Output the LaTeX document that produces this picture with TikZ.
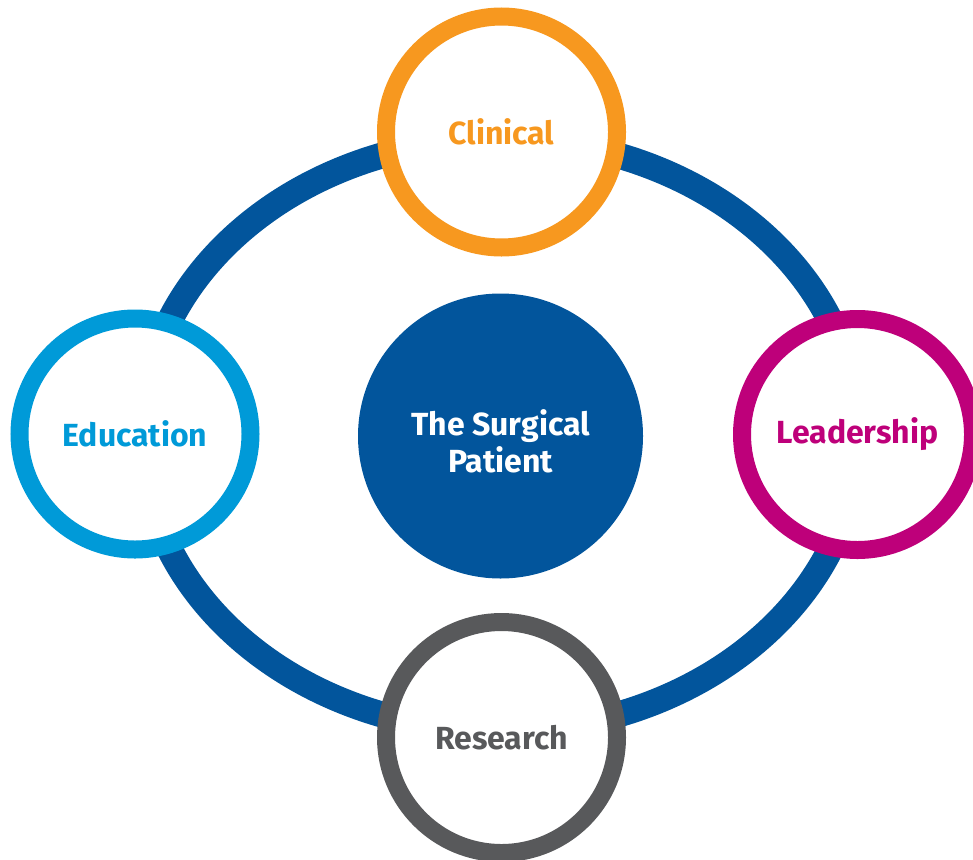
\documentclass[tikz,border=0pt]{standalone}
\usepackage{fontspec}
\setmainfont{Fira Sans}
\definecolor{ringblue}{HTML}{02559C}
\definecolor{corange}{HTML}{F7981F}
\definecolor{cblue}{HTML}{009AD8}
\definecolor{cmag}{HTML}{BE007A}
\definecolor{cgrey}{HTML}{58595B}
\begin{document}
\begin{tikzpicture}[x=1pt,y=-1pt,
  pillar/.style={circle, draw=#1, text=#1, line width=18pt, fill=white,
    minimum size=231pt, inner sep=0pt, font=\fontsize{32}{38}\selectfont\bfseries},
  hub/.style={circle, fill=ringblue, minimum size=285pt, inner sep=0pt},
  hubtext/.style={text=white, align=center, inner sep=0pt,
    font=\fontsize{32}{37}\selectfont\bfseries}]
\useasboundingbox (0,0) rectangle (973,859);
\clip (0,0) rectangle (973,859);
\coordinate (mid) at (500,435);
\draw[ringblue, line width=26pt] (mid) ellipse [x radius=358pt, y radius=296pt];
\node[hub] (patient) at (500.5,436) {};
\node[hubtext] (patienttext) at ([yshift=-5pt]patient.center) {The Surgical\\Patient};
\node[pillar=corange] (clinical) at (501.5,132) {Clinical};
\node[pillar=cblue] (education) at (135,434) {Education};
\node[pillar=cmag] (leadership) at (857.5,434.5) {Leadership};
\node[pillar=cgrey] (research) at (501.5,737.5) {Research};
\end{tikzpicture}
\end{document}
